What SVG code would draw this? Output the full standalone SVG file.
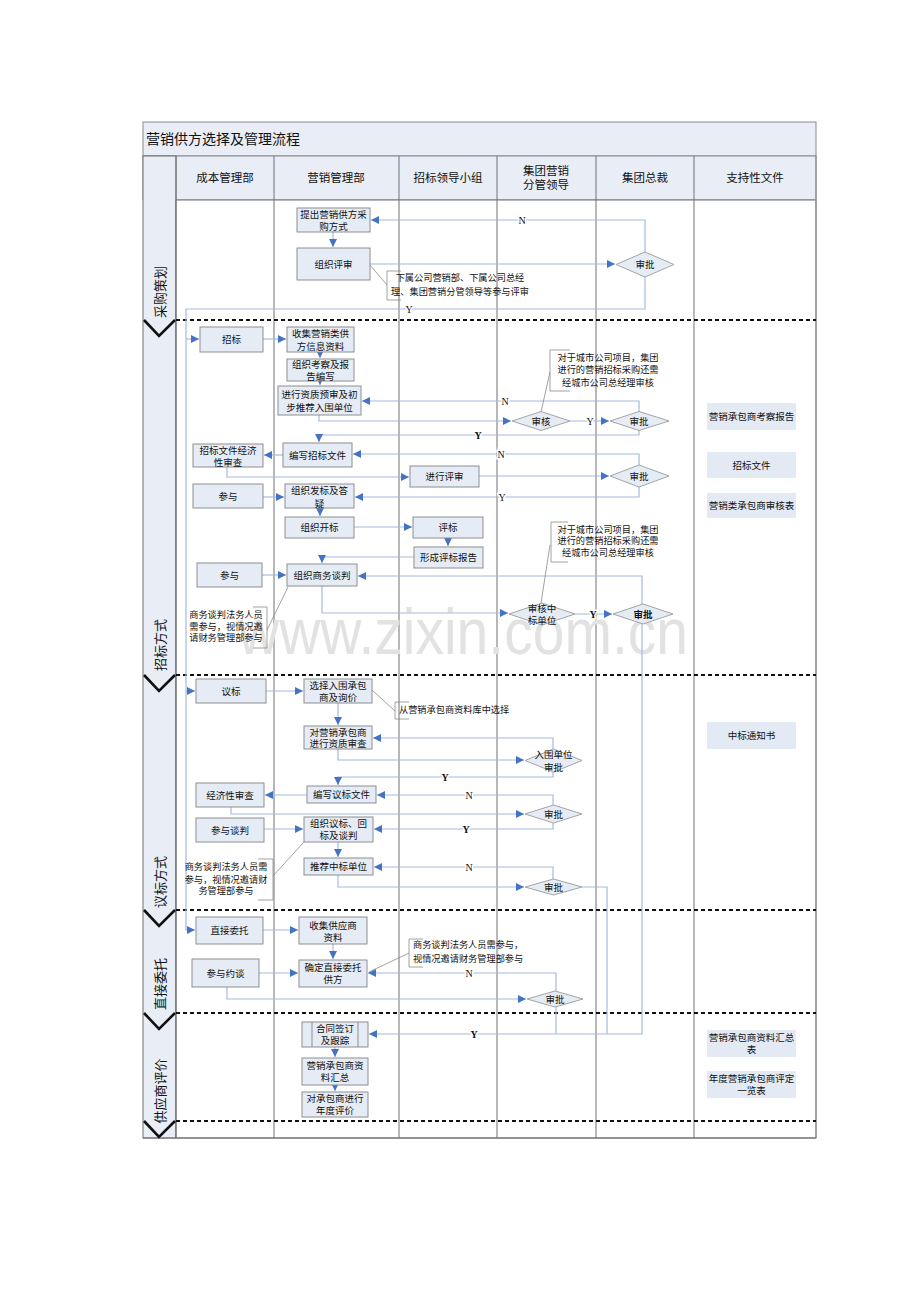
<svg xmlns="http://www.w3.org/2000/svg" width="920" height="1302" viewBox="0 0 920 1302">
<style>
text{font-family:"Liberation Sans","Noto Sans CJK SC",sans-serif;fill:#111;}
.t{font-size:9.5px;text-anchor:middle;dominant-baseline:central;}
.tl{font-size:9.2px;dominant-baseline:central;}
.tm{font-size:9.2px;text-anchor:middle;dominant-baseline:central;}
.h{font-size:11.5px;text-anchor:middle;dominant-baseline:central;}
.ph{font-size:13px;text-anchor:middle;dominant-baseline:central;}
.yn{font-family:"Liberation Serif","Noto Sans CJK SC",serif;font-size:10px;text-anchor:middle;dominant-baseline:central;stroke:#fff;stroke-width:3px;paint-order:stroke;}
.b{font-weight:bold;}
.n{fill:#e6ecf6;stroke:#8e8e8e;stroke-width:1;}
.d{fill:#e6ecf6;stroke:#a4a4a4;stroke-width:1;}
.s{fill:#e4eaf4;stroke:none;}
.c{fill:none;stroke:#a3bbe0;stroke-width:1.2;}
.ca{fill:none;stroke:#a3bbe0;stroke-width:1.2;marker-end:url(#a);}
.k{fill:none;stroke:#8a8a8a;stroke-width:0.8;}
.lane{stroke:#707070;stroke-width:1;}
.dash{stroke:#111;stroke-width:2.2;stroke-dasharray:4 3;}
.chev{fill:none;stroke:#111;stroke-width:2.6;}
</style>
<defs>
<marker id="a" viewBox="0 0 10 10" refX="10" refY="5" markerWidth="8" markerHeight="8" orient="auto" markerUnits="userSpaceOnUse"><path d="M0,0 L10,5 L0,10 z" fill="#4472c4"/></marker>
</defs>
<rect width="920" height="1302" fill="#fff"/>
<g id="frame">
<rect x="143" y="122" width="673" height="34" fill="#e8edf6" stroke="#8a8a8a"/>
<rect x="143" y="156" width="673" height="44" fill="#e8edf6" stroke="#8a8a8a"/>
<rect x="143" y="156" width="33" height="982" fill="#e8edf6" stroke="#707070"/>
<rect x="176" y="200" width="640" height="938" fill="#fff" stroke="#707070"/>
<line class="lane" x1="176" y1="156" x2="176" y2="1138"/>
<line class="lane" x1="274" y1="156" x2="274" y2="1138"/>
<line class="lane" x1="399" y1="156" x2="399" y2="1138"/>
<line class="lane" x1="497" y1="156" x2="497" y2="1138"/>
<line class="lane" x1="596" y1="156" x2="596" y2="1138"/>
<line class="lane" x1="694" y1="156" x2="694" y2="1138"/>
<line x1="816" y1="156" x2="816" y2="1138" stroke="#999" stroke-width="1.5"/>
<line class="lane" x1="143" y1="1138" x2="816" y2="1138"/>
<text x="146" y="139" style="font-size:14px;dominant-baseline:central;">营销供方选择及管理流程</text>
<text class="h" x="225" y="178">成本管理部</text>
<text class="h" x="336" y="178">营销管理部</text>
<text class="h" x="448" y="178">招标领导小组</text>
<text class="h" x="546" y="171">集团营销</text>
<text class="h" x="546" y="185">分管领导</text>
<text class="h" x="645" y="178">集团总裁</text>
<text class="h" x="755" y="178">支持性文件</text>
</g>
<g id="phases">
<line class="dash" x1="176" y1="320" x2="816" y2="320"/>
<line class="dash" x1="176" y1="675" x2="816" y2="675"/>
<line class="dash" x1="176" y1="910" x2="816" y2="910"/>
<line class="dash" x1="176" y1="1013" x2="816" y2="1013"/>
<line class="dash" x1="176" y1="1121" x2="816" y2="1121"/>
<path class="chev" d="M144,320 L159,336 L175,320"/>
<path class="chev" d="M144,675 L159,691 L175,675"/>
<path class="chev" d="M144,910 L159,926 L175,910"/>
<path class="chev" d="M144,1013 L159,1029 L175,1013"/>
<path class="chev" d="M144,1121 L159,1137 L175,1121"/>
<text class="ph" transform="translate(160,292) rotate(-90)">采购策划</text>
<text class="ph" transform="translate(160,645) rotate(-90)">招标方式</text>
<text class="ph" transform="translate(160,882) rotate(-90)">议标方式</text>
<text class="ph" transform="translate(160,984) rotate(-90)">直接委托</text>
<text class="ph" transform="translate(160,1091) rotate(-90)">供应商评价</text>
</g>
<text x="238" y="654" textLength="450" lengthAdjust="spacingAndGlyphs" style="font-family:'Liberation Sans',sans-serif;font-size:64px;fill:#e2e2e2;">www.zixin.com.cn</text>
<g id="connectors">
<path class="ca" d="M333,232 V247"/>
<path class="ca" d="M370,264 H615"/>
<path class="ca" d="M645,252 V220 H371"/>
<path class="ca" d="M645,277 V309 H186 V930 H195"/>
<path class="ca" d="M186,339 H199"/>
<path class="ca" d="M186,691 H195"/>
<path class="ca" d="M263,339 H286"/>
<path class="ca" d="M320,352 V358"/>
<path class="ca" d="M320,381 V385"/>
<path class="ca" d="M639,412 V401 H362"/>
<path class="ca" d="M319,415 V421 H511"/>
<path class="ca" d="M570,421 H609"/>
<path class="ca" d="M639,430 V435 H319 V442"/>
<path class="ca" d="M283,455 H264"/>
<path class="ca" d="M639,465 V454 H353"/>
<path class="ca" d="M227,467 V477 H409"/>
<path class="ca" d="M479,476 H609"/>
<path class="ca" d="M639,487 V497 H355"/>
<path class="ca" d="M263,497 H284"/>
<path class="ca" d="M320,508 V516"/>
<path class="ca" d="M354,527 H412"/>
<path class="ca" d="M448,538 V546"/>
<path class="ca" d="M414,557 H322 V563"/>
<path class="ca" d="M262,575 H286"/>
<path class="ca" d="M642,604 V576 H358"/>
<path class="ca" d="M322,586 V613 H508"/>
<path class="ca" d="M575,614 H612"/>
<path class="ca" d="M642,624 V1034 H369"/>
<path class="ca" d="M266,691 H303"/>
<path class="ca" d="M338,703 V725"/>
<path class="ca" d="M553,749 V738 H373"/>
<path class="ca" d="M338,749 V760 H524"/>
<path class="ca" d="M553,772 V777 H338 V785"/>
<path class="ca" d="M307,795 H265"/>
<path class="ca" d="M553,805 V795 H377"/>
<path class="ca" d="M231,807 V814 H524"/>
<path class="ca" d="M553,823 V829 H374"/>
<path class="ca" d="M264,829 H303"/>
<path class="ca" d="M338,842 V857"/>
<path class="ca" d="M553,879 V867 H374"/>
<path class="ca" d="M338,875 V887 H524"/>
<path class="c" d="M582,887 H607 V1034"/>
<path class="ca" d="M263,930 H298"/>
<path class="ca" d="M333,944 V959"/>
<path class="ca" d="M259,973 H298"/>
<path class="ca" d="M556,991 V973 H368"/>
<path class="ca" d="M227,987 V999 H526"/>
<path class="c" d="M556,1007 V1034"/>
<path class="ca" d="M335,1047 V1057"/>
<path class="ca" d="M335,1085 V1091"/>
<text class="yn" x="522" y="220">N</text>
<text class="yn" x="409" y="309">Y</text>
<text class="yn" x="505" y="401">N</text>
<text class="yn" x="590" y="421">Y</text>
<text class="yn b" x="478" y="435">Y</text>
<text class="yn" x="501" y="454">N</text>
<text class="yn" x="502" y="497">Y</text>
<text class="yn b" x="593" y="614">Y</text>
<text class="yn b" x="445" y="777">Y</text>
<text class="yn" x="469" y="795">N</text>
<text class="yn b" x="466" y="829">Y</text>
<text class="yn" x="469" y="867">N</text>
<text class="yn" x="469" y="973">N</text>
<text class="yn b" x="474" y="1034">Y</text>
</g>
<g id="callouts">
<path class="k" d="M370,265 L387,285"/>
<path class="k" d="M401,271 H387 V300 H401"/>
<text class="tm" x="460" y="278">下属公司营销部、下属公司总经</text>
<text class="tm" x="460" y="292">理、集团营销分管领导等参与评审</text>
<path class="k" d="M541,412 L550,372"/>
<path class="k" d="M570,350 H550 V391 H570"/>
<text class="tm" x="608" y="358">对于城市公司项目，集团</text>
<text class="tm" x="608" y="370">进行的营销招标采购还需</text>
<text class="tm" x="608" y="383">经城市公司总经理审核</text>
<path class="k" d="M541,603 L550,545"/>
<path class="k" d="M568,522 H551 V562 H568"/>
<text class="tm" x="608" y="530">对于城市公司项目，集团</text>
<text class="tm" x="608" y="541">进行的营销招标采购还需</text>
<text class="tm" x="608" y="553">经城市公司总经理审核</text>
<path class="k" d="M267,630 L288,587"/>
<path class="k" d="M253,607 H267 V648 H253"/>
<text class="tm" x="226" y="615">商务谈判法务人员</text>
<text class="tm" x="226" y="627">需参与，视情况邀</text>
<text class="tm" x="226" y="638">请财务管理部参与</text>
<path class="k" d="M372,690 L395,711"/>
<path class="k" d="M409,702 H395 V719 H409"/>
<text class="tl" x="399" y="710">从营销承包商资料库中选择</text>
<path class="k" d="M273,876 L304,842"/>
<path class="k" d="M258,859 H273 V900 H258"/>
<text class="tm" x="226" y="867">商务谈判法务人员需</text>
<text class="tm" x="226" y="880">参与，视情况邀请财</text>
<text class="tm" x="226" y="891">务管理部参与</text>
<path class="k" d="M369,972 L409,953"/>
<path class="k" d="M423,939 H409 V967 H423"/>
<text class="tl" x="413" y="945">商务谈判法务人员需参与，</text>
<text class="tl" x="413" y="959">视情况邀请财务管理部参与</text>
</g>
<g id="n-tichu"><rect class="n" x="297" y="208" width="73" height="24"/><text class="t" x="333.5" y="214">提出营销供方采</text><text class="t" x="333.5" y="226">购方式</text></g>
<g id="n-zuzhipingshen"><rect class="n" x="297" y="248" width="73" height="32"/><text class="t" x="333.5" y="264">组织评审</text></g>
<g id="d-shenpi1"><polygon class="d" points="616,264.5 645,252 674,264.5 645,277"/><text class="t" x="645" y="264.5">审批</text></g>
<g id="n-zhaobiao"><rect class="n" x="200" y="327" width="63" height="25"/><text class="t" x="231.5" y="339.5">招标</text></g>
<g id="n-shouji"><rect class="n" x="287" y="327" width="67" height="25"/><text class="t" x="320.5" y="333">收集营销类供</text><text class="t" x="320.5" y="346">方信息资料</text></g>
<g id="n-kaocha"><rect class="n" x="287" y="359" width="67" height="22"/><text class="t" x="320.5" y="364">组织考察及报</text><text class="t" x="320.5" y="376">告编写</text></g>
<g id="n-yushen"><rect class="n" x="278" y="386" width="83" height="29"/><text class="t" x="319.5" y="394">进行资质预审及初</text><text class="t" x="319.5" y="407">步推荐入围单位</text></g>
<g id="d-shenhe"><polygon class="d" points="512,421 541,411.5 570,421 541,430.5"/><text class="t" x="541" y="421">审核</text></g>
<g id="d-shenpi2"><polygon class="d" points="610,421 639,411.5 669,421 639,430.5"/><text class="t" x="639" y="421">审批</text></g>
<g id="n-jingjixing1"><rect class="n" x="193" y="444" width="70" height="23"/><text class="t" x="228" y="450">招标文件经济</text><text class="t" x="228" y="462">性审查</text></g>
<g id="n-bianxie"><rect class="n" x="283" y="443" width="69" height="24"/><text class="t" x="317.5" y="455">编写招标文件</text></g>
<g id="n-pingshen"><rect class="n" x="410" y="466" width="69" height="21"/><text class="t" x="444.5" y="476.5">进行评审</text></g>
<g id="d-shenpi3"><polygon class="d" points="610,476 639,465 669,476 639,487"/><text class="t" x="639" y="476">审批</text></g>
<g id="n-canyu1"><rect class="n" x="193" y="484" width="70" height="24"/><text class="t" x="228" y="496">参与</text></g>
<g id="n-fabiao"><rect class="n" x="285" y="484" width="69" height="24"/><text class="t" x="319.5" y="490">组织发标及答</text><text class="t" x="319.5" y="503">疑</text></g>
<g id="n-kaibiao"><rect class="n" x="285" y="517" width="69" height="21"/><text class="t" x="319.5" y="527.5">组织开标</text></g>
<g id="n-pingbiao"><rect class="n" x="413" y="517" width="70" height="21"/><text class="t" x="448" y="527.5">评标</text></g>
<g id="n-baogao"><rect class="n" x="414" y="547" width="69" height="21"/><text class="t" x="448.5" y="557.5">形成评标报告</text></g>
<g id="n-canyu2"><rect class="n" x="197" y="563" width="65" height="24"/><text class="t" x="229.5" y="575">参与</text></g>
<g id="n-tanpan"><rect class="n" x="287" y="564" width="70" height="22"/><text class="t" x="322" y="575">组织商务谈判</text></g>
<g id="d-zhongbiao"><polygon class="d" points="509,614 542,603 575,614 542,625"/><text class="t" x="542" y="608">审核中</text><text class="t" x="542" y="620">标单位</text></g>
<g id="d-shenpi4"><polygon class="d" points="613,614 643,604 673,614 643,624"/><text class="t b" x="643" y="614">审批</text></g>
<g id="n-yibiao"><rect class="n" x="196" y="679" width="70" height="24"/><text class="t" x="231" y="691">议标</text></g>
<g id="n-xuanze"><rect class="n" x="304" y="679" width="68" height="24"/><text class="t" x="338" y="685">选择入围承包</text><text class="t" x="338" y="697">商及询价</text></g>
<g id="n-zizhi"><rect class="n" x="304" y="726" width="68" height="23"/><text class="t" x="338" y="732">对营销承包商</text><text class="t" x="338" y="743">进行资质审查</text></g>
<g id="d-ruwei"><polygon class="d" points="525,760.5 553.5,749 582,760.5 553.5,772"/><text class="t" x="553.5" y="754">入围单位</text><text class="t" x="553.5" y="767">审批</text></g>
<g id="n-jingjixing2"><rect class="n" x="196" y="783" width="68" height="24"/><text class="t" x="230" y="795">经济性审查</text></g>
<g id="n-yibiaowenjian"><rect class="n" x="307" y="786" width="69" height="17"/><text class="t" x="341.5" y="794.5">编写议标文件</text></g>
<g id="d-shenpi5"><polygon class="d" points="525,814 553.5,805 582,814 553.5,823"/><text class="t" x="553.5" y="814">审批</text></g>
<g id="n-canyutanpan"><rect class="n" x="196" y="818" width="68" height="24"/><text class="t" x="230" y="830">参与谈判</text></g>
<g id="n-zuzhiyibiao"><rect class="n" x="304" y="817" width="69" height="25"/><text class="t" x="338.5" y="823">组织议标、回</text><text class="t" x="338.5" y="835">标及谈判</text></g>
<g id="n-tuijian"><rect class="n" x="304" y="858" width="69" height="17"/><text class="t" x="338.5" y="866.5">推荐中标单位</text></g>
<g id="d-shenpi6"><polygon class="d" points="525,887 553.5,879 582,887 553.5,895"/><text class="t" x="553.5" y="887">审批</text></g>
<g id="n-zhijie"><rect class="n" x="196" y="917" width="67" height="27"/><text class="t" x="229.5" y="930.5">直接委托</text></g>
<g id="n-gongyingshang"><rect class="n" x="299" y="917" width="68" height="27"/><text class="t" x="333" y="925">收集供应商</text><text class="t" x="333" y="937">资料</text></g>
<g id="n-yuetan"><rect class="n" x="192" y="959" width="67" height="28"/><text class="t" x="225.5" y="973">参与约谈</text></g>
<g id="n-queding"><rect class="n" x="299" y="960" width="68" height="27"/><text class="t" x="333" y="967">确定直接委托</text><text class="t" x="333" y="979">供方</text></g>
<g id="d-shenpi7"><polygon class="d" points="527,999 555,991 583,999 555,1007"/><text class="t" x="555" y="999">审批</text></g>
<g id="n-hetong"><rect class="n" x="302" y="1022" width="66" height="25"/><line x1="312" y1="1022" x2="312" y2="1047" stroke="#8e8e8e"/><line x1="358" y1="1022" x2="358" y2="1047" stroke="#8e8e8e"/><text class="t" x="335" y="1028">合同签订</text><text class="t" x="335" y="1040">及跟踪</text></g>
<g id="n-huizong"><rect class="n" x="302" y="1058" width="66" height="27"/><text class="t" x="335" y="1065">营销承包商资</text><text class="t" x="335" y="1077">料汇总</text></g>
<g id="n-niandu"><rect class="n" x="302" y="1092" width="66" height="25"/><text class="t" x="335" y="1098">对承包商进行</text><text class="t" x="335" y="1110">年度评价</text></g>
<g id="s-kaocha"><rect class="s" x="707" y="403" width="89" height="27"/><text class="t" x="751.5" y="416.5">营销承包商考察报告</text></g>
<g id="s-zhaobiaowenjian"><rect class="s" x="707" y="452" width="89" height="26"/><text class="t" x="751.5" y="465">招标文件</text></g>
<g id="s-shenhebiao"><rect class="s" x="707" y="493" width="89" height="25"/><text class="t" x="751.5" y="505.5">营销类承包商审核表</text></g>
<g id="s-tongzhishu"><rect class="s" x="707" y="722" width="89" height="27"/><text class="t" x="751.5" y="735.5">中标通知书</text></g>
<g id="s-huizongbiao"><rect class="s" x="707" y="1030" width="89" height="27"/><text class="t" x="751.5" y="1037">营销承包商资料汇总</text><text class="t" x="751.5" y="1049">表</text></g>
<g id="s-pingding"><rect class="s" x="707" y="1071" width="89" height="27"/><text class="t" x="751.5" y="1078">年度营销承包商评定</text><text class="t" x="751.5" y="1090">一览表</text></g>
</svg>
